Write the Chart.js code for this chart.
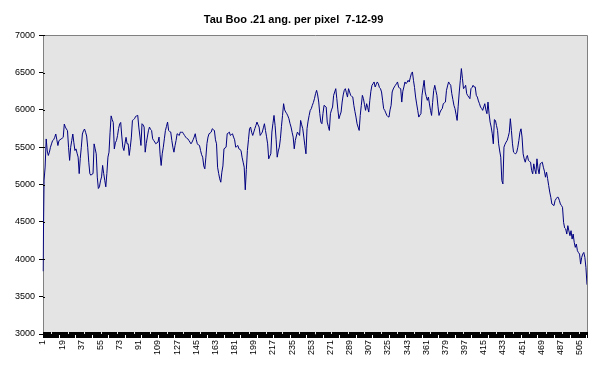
<!DOCTYPE html>
<html>
<head>
<meta charset="utf-8">
<script src="https://cdn.jsdelivr.net/npm/chart.js@4/dist/chart.umd.min.js"></script>
<style>
html,body{margin:0;padding:0;background:#fff;}
#wrap{width:600px;height:371px;position:relative;}
</style>
</head>
<body>
<div id="wrap"><canvas id="c" width="600" height="371"></canvas></div>
<script>
const chartTitle = 'Tau Boo .21 ang. per pixel  7-12-99';
const pixelCount = 512;
const pixels = [];
for (let i = 1; i <= pixelCount; i++) pixels.push(String(i));
const xTickLabels = ['1','19','37','55','73','91','109','127','145','163','181','199','217','235','253','271','289','307','325','343','361','379','397','415','433','451','469','487','505'];
const yTicks = [3000,3500,4000,4500,5000,5500,6000,6500,7000];
const intensity = [
3840,5060,5235,5611,5450,5390,5434,5500,5545,5589,
5600,5633,5677,5600,5523,5589,5600,5611,5620,5633,
5810,5770,5744,5722,5500,5324,5500,5589,5677,5560,
5456,5478,5420,5368,5147,5350,5500,5677,5720,5744,
5700,5650,5500,5300,5147,5125,5140,5147,5545,5480,
5412,5100,4948,4970,5050,5103,5257,5150,5058,4970,
5150,5368,5434,5700,5920,5870,5832,5478,5560,5589,
5655,5750,5810,5832,5650,5500,5456,5550,5633,5545,
5546,5390,5500,5636,5859,5870,5882,5913,5920,5927,
5770,5650,5524,5815,5800,5770,5434,5550,5636,5720,
5770,5740,5725,5613,5591,5570,5546,5560,5569,5636,
5400,5256,5412,5500,5613,5725,5780,5837,5725,5710,
5703,5591,5500,5434,5520,5591,5681,5670,5658,5703,
5700,5703,5680,5658,5636,5620,5613,5591,5570,5546,
5569,5600,5636,5681,5600,5546,5530,5524,5457,5400,
5367,5250,5211,5367,5550,5636,5681,5690,5703,5748,
5735,5725,5600,5546,5233,5150,5077,5032,5166,5250,
5479,5490,5501,5680,5690,5703,5658,5670,5680,5636,
5600,5501,5510,5524,5479,5470,5457,5367,5300,5233,
4930,5200,5457,5600,5748,5770,5700,5658,5703,5750,
5792,5837,5800,5770,5658,5680,5703,5760,5815,5725,
5640,5546,5345,5380,5412,5703,5820,5926,5792,5600,
5367,5450,5501,5613,5780,5926,6083,6000,5971,5949,
5920,5882,5820,5770,5700,5636,5479,5591,5650,5703,
5680,5658,5859,5800,5748,5636,5520,5412,5750,5850,
5926,5993,6016,6061,6100,6150,6217,6262,6200,6105,
5950,5837,5815,5950,6061,6050,6038,5837,5780,5725,
5949,6000,6038,6195,6240,6284,6150,6000,5882,5930,
5971,6105,6200,6262,6284,6230,6172,6284,6240,6195,
6180,6172,6061,5980,5904,5815,5770,5725,5926,6060,
6195,6150,6070,5994,6083,6030,5971,6128,6250,6329,
6350,6374,6307,6340,6374,6351,6300,6284,6240,6130,
6016,5994,5960,5926,5910,5904,6000,6061,6240,6280,
6307,6329,6350,6374,6307,6290,6284,6105,6250,6307,
6374,6351,6370,6396,6374,6430,6486,6508,6396,6300,
6172,6080,5994,5904,5930,5949,6195,6300,6396,6240,
6180,6128,6172,6080,5994,5926,6100,6262,6329,6260,
6195,6050,5926,5971,6000,6016,6083,6095,6105,6262,
6320,6374,6350,6329,6217,6140,6061,6016,5940,5859,
6050,6240,6396,6553,6418,6284,6300,6329,6217,6190,
6172,6150,6284,6300,6329,6307,6307,6195,6172,6120,
6083,6038,6020,5994,6040,6083,6000,5949,6105,5950,
5837,5770,5680,5546,5870,5859,5790,5725,5546,5450,
5367,5054,5009,5501,5540,5569,5591,5640,5700,5882,
5725,5546,5434,5420,5412,5434,5500,5591,5700,5747,
5636,5412,5345,5300,5360,5390,5323,5310,5300,5188,
5144,5278,5200,5144,5345,5211,5144,5278,5290,5300,
5233,5180,5099,5166,5080,4987,4900,4830,4741,4730,
4719,4786,4810,4830,4830,4790,4741,4720,4696,4495,
4420,4406,4338,4450,4380,4316,4383,4271,4338,4227,
4160,4204,4115,4090,4070,3936,4025,4070,4092,4025,
3891,3660
];

const FONT = '"Liberation Sans", Arial, sans-serif';

const plotDecor = {
  id: 'plotDecor',
  beforeDraw(chart) {
    const {ctx, chartArea: a} = chart;
    ctx.save();
    ctx.fillStyle = '#ffffff';
    ctx.fillRect(0, 0, chart.width, chart.height);
    ctx.fillStyle = '#e4e4e4';
    ctx.fillRect(a.left, a.top, a.right - a.left, a.bottom - a.top);
    ctx.restore();
  },
  afterDraw(chart) {
    const {ctx, chartArea: a} = chart;
    ctx.save();
    ctx.strokeStyle = '#808080';
    ctx.lineWidth = 1;
    ctx.beginPath();
    ctx.moveTo(Math.round(a.left) + 0.5, Math.round(a.top) + 0.5);
    ctx.lineTo(Math.round(a.right) + 0.5, Math.round(a.top) + 0.5);
    ctx.lineTo(Math.round(a.right) + 0.5, Math.round(a.bottom));
    ctx.stroke();
    ctx.strokeStyle = '#000000';
    const xs = chart.scales.x;
    ctx.beginPath();
    xs.ticks.forEach((t, i) => {
      const px = Math.round(xs.getPixelForTick(i)) + 0.5;
      ctx.moveTo(px, a.bottom - 2);
      ctx.lineTo(px, a.bottom);
    });
    ctx.stroke();
    const ys = chart.scales.y;
    ctx.beginPath();
    ys.ticks.forEach((t, i) => {
      const py = Math.round(ys.getPixelForTick(i)) + 0.5;
      ctx.moveTo(a.left, py);
      ctx.lineTo(a.left + 2, py);
    });
    ctx.stroke();
    ctx.restore();
  }
};

new Chart(document.getElementById('c'), {
  type: 'line',
  data: {
    labels: pixels,
    datasets: [{
      data: intensity,
      borderColor: '#000080',
      borderWidth: 1,
      pointRadius: 0,
      tension: 0,
      fill: false
    }]
  },
  options: {
    responsive: false,
    animation: false,
    events: [],
    layout: { padding: { left: 0, right: 13, top: 0, bottom: 0 } },
    plugins: {
      legend: { display: false },
      tooltip: { enabled: false },
      title: {
        display: true,
        text: chartTitle,
        color: '#000',
        font: { family: FONT, size: 11, weight: 'bold' },
        padding: { top: 13, bottom: 9 }
      }
    },
    scales: {
      x: {
        type: 'category',
        offset: false,
        afterFit(scale) { scale.height = 37; },
        grid: { display: true, drawOnChartArea: false, drawTicks: true, tickLength: 4, color: '#000', lineWidth: 1 },
        border: { display: true, color: '#000', width: 1 },
        ticks: {
          autoSkip: false,
          minRotation: 90,
          maxRotation: 90,
          padding: 2,
          color: '#000',
          font: { family: FONT, size: 9 },
          callback(value) {
            const lab = this.getLabelForValue(value);
            return xTickLabels.includes(lab) ? lab : '';
          }
        }
      },
      y: {
        min: 3000,
        max: 7000,
        afterFit(scale) { scale.width = 43; },
        afterBuildTicks(scale) { scale.ticks = yTicks.map(v => ({ value: v })); },
        grid: { display: true, drawOnChartArea: false, drawTicks: true, tickLength: 4, color: '#000', lineWidth: 1 },
        border: { display: true, color: '#808080', width: 1 },
        ticks: {
          padding: 4,
          color: '#000',
          font: { family: FONT, size: 9 },
          callback(value) { return String(value); }
        }
      }
    }
  },
  plugins: [plotDecor]
});
</script>
</body>
</html>
